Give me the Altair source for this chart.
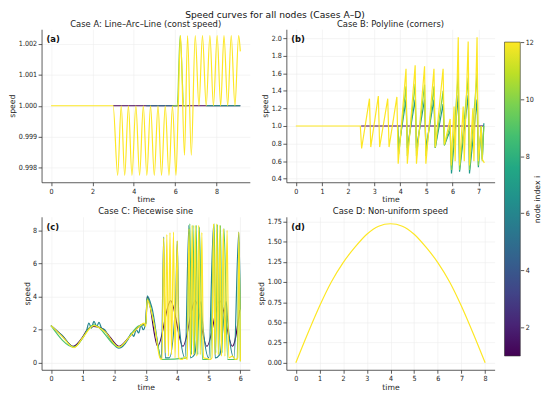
import altair as alt
import pandas as pd

# ---------------- data ----------------
# Panel A: Line-Arc-Line (const speed)
A_T1 = [3.0, 9.15]
A_V1 = [1.0, 1.0]
A_T5 = [4.6, 6.1]
A_V5 = [1.0, 1.0]
A_T7 = [7.5, 9.15]
A_V7 = [1.0, 1.0]
A_T10 = [5.9, 6.1, 6.24, 6.42, 6.6]
A_V10 = [1.0, 1.0, 1.00227, 1.0, 1.0]
A_T12 = [0, 3.0, 3.22, 3.39, 3.56, 3.74, 3.91, 4.10, 4.28, 4.46, 4.63, 4.81, 4.99,
         5.17, 5.34, 5.52, 5.70, 5.87, 6.04, 6.15, 6.26, 6.45, 6.60, 6.78, 6.97,
         7.15, 7.32, 7.50, 7.68, 7.85, 8.03, 8.20, 8.36, 8.54, 8.71, 8.89, 9.07, 9.15]
A_V12 = [1.0, 1.0, 0.99775, 1.0, 0.99775, 1.0, 0.99775, 1.0, 0.99775, 1.0, 0.99775,
         1.0, 0.99775, 1.0, 0.99775, 1.0, 0.99775, 1.0, 0.99775, 1.0, 1.00227,
         0.9984, 1.00227, 0.9984, 1.00227, 1.0, 1.00227, 1.0, 1.00227, 1.0,
         1.00227, 1.0, 1.00227, 1.0, 1.00227, 1.0, 1.00227, 1.00176]

# Panel B: Polyline (corners)
B_T1 = [2.5, 7.2]
B_V1 = [1.0, 1.0]
B_T7 = [3.90, 3.94, 4.22, 4.27, 4.57, 4.62, 4.93, 4.98, 5.29, 5.34, 5.64, 5.69,
        5.91, 5.96, 6.22, 6.27, 6.60, 6.65, 6.94, 6.99, 7.10, 7.14, 7.2]
B_V7 = [1.0, 0.75, 1.30, 0.75, 1.30, 0.75, 1.30, 0.75, 1.30, 0.75, 1.25, 0.78,
        0.95, 0.46, 1.35, 0.48, 1.35, 0.46, 1.30, 0.53, 1.0, 0.62, 1.03]
B_T10 = [3.90, 3.94, 4.22, 4.27, 4.57, 4.62, 4.93, 4.98, 5.29, 5.34, 5.64, 5.69,
         5.91, 5.96, 6.22, 6.27, 6.60, 6.65, 6.94, 6.99, 7.10, 7.14, 7.2]
B_V10 = [1.0, 0.68, 1.45, 0.66, 1.48, 0.66, 1.47, 0.66, 1.45, 0.75, 1.4, 0.78,
         1.0, 0.5, 1.6, 0.5, 1.55, 0.5, 1.6, 0.55, 1.0, 0.6, 1.0]
B_T12 = [0, 2.47, 2.52, 2.82, 2.87, 3.16, 3.21, 3.52, 3.57, 3.87, 3.92, 4.22, 4.27,
         4.57, 4.62, 4.93, 4.98, 5.29, 5.34, 5.64, 5.69, 5.91, 5.95, 6.06, 6.10,
         6.22, 6.27, 6.41, 6.45, 6.60, 6.65, 6.78, 6.82, 6.94, 6.99, 7.10, 7.14, 7.22]
B_V12 = [1.0, 1.0, 0.745, 1.31, 0.76, 1.34, 0.76, 1.31, 0.76, 1.33, 0.57, 1.65, 0.57,
         1.69, 0.57, 1.68, 0.57, 1.65, 0.76, 1.65, 0.79, 1.08, 0.55, 1.22, 0.6,
         2.01, 0.55, 1.22, 0.6, 1.96, 0.55, 1.2, 0.6, 2.01, 0.6, 1.0, 0.62, 0.58]

# Panel C: Piecewise sine
C_T1 = [0, 0.35, 0.7, 1.0, 1.15, 1.35, 1.6, 1.85, 2.15, 2.45, 2.7, 2.9, 3.0, 3.05,
        3.38, 3.79, 4.18, 4.57, 4.94, 5.35, 5.75, 5.98]
C_V1 = [2.25, 1.65, 1.0, 1.55, 2.0, 2.2, 2.1, 1.6, 1.0, 1.5, 2.05, 2.3, 2.3, 4.0,
        1.0, 3.75, 1.0, 3.75, 1.0, 3.75, 1.0, 3.2]
C_T6 = [0, 0.35, 0.72, 1.0, 1.12, 1.2, 1.28, 1.36, 1.45, 1.52, 1.6, 1.7, 1.85, 2.15,
        2.45, 2.55, 2.62, 2.7, 2.78, 2.85, 2.92, 3.0, 3.05, 3.2, 3.5, 3.57, 3.62,
        3.75, 3.95, 4.0, 4.05, 4.25, 4.37, 4.42, 4.55, 4.75, 4.8, 5.0, 5.15, 5.2,
        5.35, 5.55, 5.6, 5.8, 5.95, 6.0]
C_V6 = [2.25, 1.65, 0.95, 1.5, 1.9, 2.4, 2.1, 2.5, 2.2, 2.45, 2.1, 2.0, 1.5, 0.88,
        1.45, 1.8, 1.6, 2.0, 1.8, 2.3, 2.0, 2.4, 4.05, 3.3, 0.25, 7.6, 0.3, 0.3,
        3.7, 7.35, 2.5, 0.3, 8.3, 0.3, 0.5, 3.7, 2.5, 0.3, 8.3, 0.3, 0.5, 3.7, 2.5,
        0.3, 7.9, 3.2]
C_T9 = [0, 0.73, 1.35, 2.15, 2.8, 3.0, 3.05, 3.3, 3.5, 4.3, 4.4, 4.45, 4.5, 4.55,
        4.6, 4.65, 4.7, 4.8, 5.05, 5.17, 5.22, 5.27, 5.32, 5.37, 5.42, 5.48, 5.6,
        5.9, 5.96, 6.0]
C_V9 = [2.25, 0.95, 2.3, 0.95, 2.25, 2.3, 3.9, 2.0, 0.2, 0.3, 8.4, 0.5, 8.3, 0.6,
        8.3, 0.5, 8.2, 0.2, 0.2, 8.4, 0.6, 8.35, 0.5, 8.3, 0.6, 8.1, 0.2, 0.2, 7.3,
        0.1]
C_T12 = [0, 0.35, 0.73, 1.0, 1.35, 1.7, 2.15, 2.5, 2.8, 2.95, 3.0, 3.05, 3.15, 3.3,
         3.45, 3.52, 3.57, 3.62, 3.67, 3.72, 3.77, 3.82, 3.88, 3.93, 4.0, 4.05,
         4.15, 4.25, 4.32, 4.37, 4.42, 4.47, 4.52, 4.57, 4.62, 4.68, 4.73, 4.78,
         4.83, 4.95, 5.05, 5.1, 5.15, 5.2, 5.25, 5.3, 5.35, 5.4, 5.46, 5.51, 5.58,
         5.63, 5.75, 5.85, 5.92, 5.95, 6.0]
C_V12 = [2.25, 1.6, 0.92, 1.5, 2.25, 1.9, 0.95, 1.6, 2.2, 2.4, 2.2, 3.8, 3.3, 2.0,
         0.3, 0.2, 7.55, 0.6, 7.75, 0.4, 7.86, 0.5, 7.9, 0.3, 7.37, 0.3, 0.2,
         0.35, 0.2, 8.1, 0.4, 8.3, 0.5, 8.3, 0.4, 8.3, 0.5, 7.86, 0.3, 0.25, 0.2,
         0.3, 8.4, 0.5, 8.4, 0.5, 8.3, 0.4, 8.1, 0.4, 8.0, 0.3, 0.4, 0.2, 0.3,
         7.9, 0.1]

# Panel D: Non-uniform speed (all nodes coincide; the last node is the one seen)
D_T = [0, 0.5, 1, 1.5, 2, 2.5, 3, 3.5, 4, 4.5, 5, 5.5, 6, 6.5, 7, 7.5, 8]
D_V = [0, 0.36, 0.70, 1.0, 1.24, 1.43, 1.59, 1.69, 1.72, 1.69, 1.59, 1.43, 1.24,
       1.0, 0.70, 0.36, 0]
NODES = list(range(1, 13))

# colour bar stops (viridis)
VIRIDIS = ["#440154", "#482475", "#414487", "#355f8d", "#2a788e", "#21918c",
           "#22a884", "#44bf70", "#7ad151", "#bddf26", "#fde725"]


def frame(series):
    rows = []
    for node, ts, vs in series:
        for t, v in zip(ts, vs):
            rows.append({"node": node, "t": t, "v": v})
    return pd.DataFrame(rows).sort_values(["node", "t"], kind="stable")


dfA = frame([(1, A_T1, A_V1), (5, A_T5, A_V5), (7, A_T7, A_V7),
             (10, A_T10, A_V10), (12, A_T12, A_V12)])
dfB = frame([(1, B_T1, B_V1), (7, B_T7, B_V7), (10, B_T10, B_V10),
             (12, B_T12, B_V12)])
dfC = frame([(1, C_T1, C_V1), (6, C_T6, C_V6), (9, C_T9, C_V9),
             (12, C_T12, C_V12)])
dfD = frame([(NODES[-1], D_T, D_V)])

W, H = 211, 155
GAP_ROW, GAP_COL = 35, 37
FONT = "DejaVu Sans"
TICKFONT = "'Liberation Sans Narrow', 'DejaVu Sans Condensed', 'Liberation Sans', sans-serif"


def layers(df, tag, xdom, ydom, xticks, yticks, yfmt, interp):
    lines = alt.Chart(df).mark_line(
        clip=True, strokeWidth=1.2, interpolate=interp
    ).encode(
        x=alt.X("t:Q", title="time",
                scale=alt.Scale(domain=xdom, nice=False, zero=False),
                axis=alt.Axis(values=xticks, format="d")),
        y=alt.Y("v:Q", title="speed",
                scale=alt.Scale(domain=ydom, nice=False, zero=False),
                axis=alt.Axis(values=yticks, format=yfmt)),
        color=alt.Color("node:Q", legend=None,
                        scale=alt.Scale(scheme="viridis", domain=[1, 12])),
        detail="node:N",
    )
    label = alt.Chart(pd.DataFrame({"tag": [tag]})).mark_text(
        align="left", baseline="top", fontWeight="bold", fontSize=8.5,
        font=FONT, color="#111"
    ).encode(x=alt.value(5), y=alt.value(6), text="tag:N")
    return [lines, label]


def titled(title):
    return alt.TitleParams(title, fontSize=8.5, font=FONT, fontWeight="normal",
                           color="#222", offset=1)


lA = layers(dfA, "(a)", [-0.46, 9.61], [0.997525, 1.002475], [0, 2, 4, 6, 8],
            [0.998, 0.999, 1.0, 1.001, 1.002], ".3f", "monotone")
lB = layers(dfB, "(b)", [-0.3625, 7.6125], [0.36, 2.1], [0, 1, 2, 3, 4, 5, 6, 7],
            [0.4, 0.6, 0.8, 1.0, 1.2, 1.4, 1.6, 1.8, 2.0], ".1f", "linear")
lC = layers(dfC, "(c)", [-0.3, 6.3], [-0.42, 8.82], [0, 1, 2, 3, 4, 5, 6],
            [0, 2, 4, 6, 8], "d", "monotone")
lD = layers(dfD, "(d)", [-0.4, 8.4], [-0.086, 1.806], [0, 1, 2, 3, 4, 5, 6, 7, 8],
            [0, 0.25, 0.5, 0.75, 1.0, 1.25, 1.5, 1.75], ".2f", "monotone")

# colour bar, drawn beside panel B and spanning both rows
n = len(VIRIDIS) - 1
grad = alt.Gradient(
    gradient="linear", x1=0, x2=0, y1=1, y2=0,
    stops=[alt.GradientStop(color=c, offset=i / n) for i, c in enumerate(VIRIDIS)])
CB_X0 = W + 10
CB_TOP, CB_BOT = 13, 2 * H + GAP_ROW - 14
cbar = alt.Chart(pd.DataFrame({"a": [0]})).mark_rect(
    fill=grad, stroke="#333", strokeWidth=0.6, clip=False
).encode(
    x=alt.value(CB_X0), x2=alt.value(CB_X0 + 16),
    y=alt.YDatum(1, type="quantitative",
                 scale=alt.Scale(domain=[1, 12], range=[CB_BOT, CB_TOP],
                                 nice=False, zero=False),
                 axis=alt.Axis(orient="right", values=NODES[1::2], format="d",
                               grid=False, domain=False, title="node index i",
                               offset=26, titleAngle=270, titleBaseline="bottom",
                               titlePadding=8)),
    y2=alt.Y2Datum(12),
)

pA = alt.layer(*lA).properties(width=W, height=H,
                               title=titled("Case A: Line–Arc–Line (const speed)"))
pB = alt.layer(*lB, cbar).resolve_scale(y="independent").properties(
    width=W, height=H, title=titled("Case B: Polyline (corners)"))
pC = alt.layer(*lC).properties(width=W, height=H, title=titled("Case C: Piecewise sine"))
pD = alt.layer(*lD).properties(width=W, height=H,
                               title=titled("Case D: Non-uniform speed"))

chart = alt.concat(
    pA, pB, pC, pD, columns=2, bounds="flush",
    spacing=alt.RowColnumber(row=GAP_ROW, column=GAP_COL),
).properties(
    title=alt.TitleParams("Speed curves for all nodes (Cases A–D)", fontSize=9.3,
                          font=FONT, fontWeight="normal", color="#111",
                          anchor="middle", offset=0),
    padding={"left": 0, "top": 0, "right": 0, "bottom": 0},
).configure_view(stroke=None).configure_axis(
    labelFont=TICKFONT, titleFont=FONT, labelFontSize=7.2, titleFontSize=7.8,
    titleFontWeight="normal", labelColor="#222", titleColor="#222",
    domainColor="#333", tickColor="#333", domainWidth=0.8, tickWidth=0.8,
    tickSize=3.5, gridColor="#ececec", gridWidth=0.6, labelPadding=1.5,
    titlePadding=1.5,
)

chart.save("out.html", embed_options={"renderer": "svg", "actions": False})
